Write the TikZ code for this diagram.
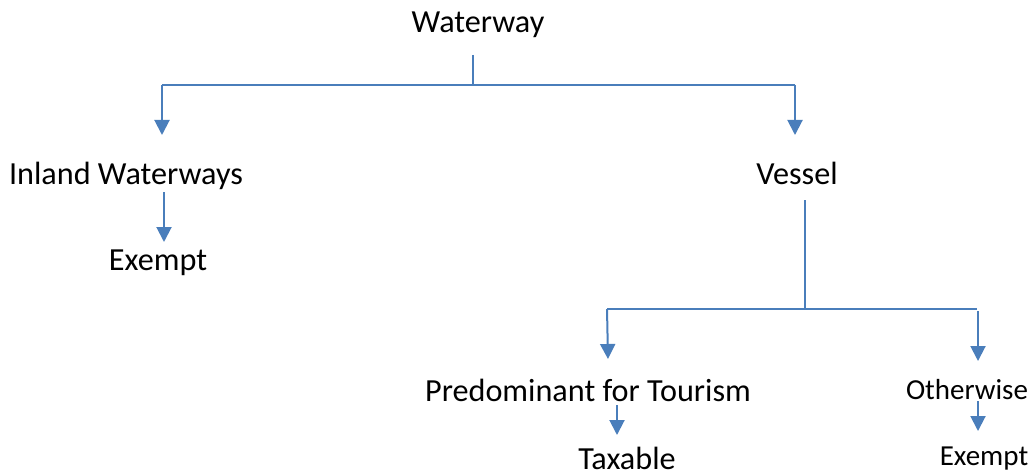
\documentclass[tikz,border=0pt]{standalone}
\usepackage{fontspec}
\setmainfont{Carlito}
\usetikzlibrary{arrows.meta}
\definecolor{linkblue}{HTML}{4A7EBB}
\tikzset{
  lbl/.style={anchor=base, inner sep=0pt, font=\fontsize{32.2}{36}\selectfont},
  lblsmall/.style={anchor=base, inner sep=0pt, font=\fontsize{29}{33}\selectfont},
  link/.style={draw=linkblue, line width=2pt},
  arr/.style={link, -{Triangle[width=15pt,length=15pt]}}
}
\begin{document}
\begin{tikzpicture}[x=1pt, y=-1pt]
  \useasboundingbox (0,0) rectangle (1032,473);

  % labels
  \node[lbl] (waterway) at (478,33) {Waterway};
  \node[lbl] (inland) at (126,185) {Inland Waterways};
  \node[lbl] (exemptA) at (158,270) {Exempt};
  \node[lbl] (vessel) at (797,185) {Vessel};
  \node[lbl] (tourism) at (588,401) {Predominant for Tourism};
  \node[lbl] (taxable) at (627,469) {Taxable};
  \node[lblsmall] (otherwise) at (967,399) {Otherwise};
  \node[lblsmall] (exemptB) at (984,465) {Exempt};

  % connector points
  \coordinate (wTop) at (473,55);
  \coordinate (wBar) at (473,85);
  \coordinate (wL) at (162,85);
  \coordinate (wR) at (795,85);
  \coordinate (wLtip) at (162,135);
  \coordinate (wRtip) at (795,135);
  \coordinate (iTop) at (164,192);
  \coordinate (iTip) at (164,242);
  \coordinate (vTop) at (805,200);
  \coordinate (vBar) at (805,309);
  \coordinate (vL) at (607,309);
  \coordinate (vR) at (977,309);
  \coordinate (vLtip) at (608,359);
  \coordinate (vRstart) at (978,311);
  \coordinate (vRtip) at (978,361);
  \coordinate (tTop) at (617,405);
  \coordinate (tTip) at (617,435);
  \coordinate (oTop) at (978,401);
  \coordinate (oTip) at (978,431);

  % Waterway split
  \draw[link] (wTop) -- (wBar);
  \draw[link] (wL) -- (wR);
  \draw[arr] (wL) -- (wLtip);
  \draw[arr] (wR) -- (wRtip);

  % Inland Waterways -> Exempt
  \draw[arr] (iTop) -- (iTip);

  % Vessel split
  \draw[link] (vTop) -- (vBar);
  \draw[link] (vL) -- (vR);
  \draw[arr] (vL) -- (vLtip);
  \draw[arr] (vRstart) -- (vRtip);

  % leaves
  \draw[arr] (tTop) -- (tTip);
  \draw[arr] (oTop) -- (oTip);
\end{tikzpicture}
\end{document}
